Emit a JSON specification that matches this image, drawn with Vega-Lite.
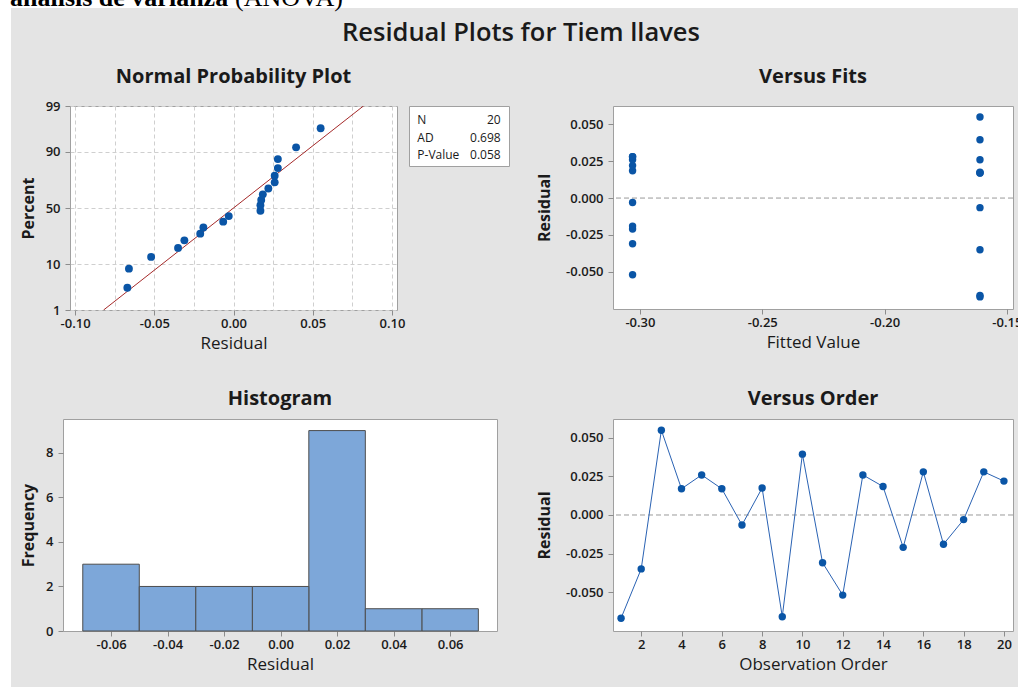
{
  "$schema": "https://vega.github.io/schema/vega-lite/v6.json",
  "autosize": {"type": "none"},
  "padding": {"left": 0, "top": 0, "right": 1018, "bottom": 687},
  "background": "#e4e4e4",
  "datasets": {
    "blank": [{}],
    "resid": [
      {"obs": 1, "fit": -0.161, "residual": -0.067, "nscore": -1.820},
      {"obs": 2, "fit": -0.161, "residual": -0.035, "nscore": -0.910},
      {"obs": 3, "fit": -0.161, "residual": 0.055, "nscore": 1.820},
      {"obs": 4, "fit": -0.161, "residual": 0.017, "nscore": -0.062},
      {"obs": 5, "fit": -0.161, "residual": 0.026, "nscore": 0.585},
      {"obs": 6, "fit": -0.161, "residual": 0.017, "nscore": 0.062},
      {"obs": 7, "fit": -0.161, "residual": -0.0065, "nscore": -0.312},
      {"obs": 8, "fit": -0.161, "residual": 0.0175, "nscore": 0.185},
      {"obs": 9, "fit": -0.161, "residual": -0.066, "nscore": -1.383},
      {"obs": 10, "fit": -0.161, "residual": 0.0395, "nscore": 1.383},
      {"obs": 11, "fit": -0.303, "residual": -0.031, "nscore": -0.738},
      {"obs": 12, "fit": -0.303, "residual": -0.052, "nscore": -1.115},
      {"obs": 13, "fit": -0.303, "residual": 0.026, "nscore": 0.738},
      {"obs": 14, "fit": -0.303, "residual": 0.0185, "nscore": 0.312},
      {"obs": 15, "fit": -0.303, "residual": -0.021, "nscore": -0.585},
      {"obs": 16, "fit": -0.303, "residual": 0.028, "nscore": 0.910},
      {"obs": 17, "fit": -0.303, "residual": -0.019, "nscore": -0.444},
      {"obs": 18, "fit": -0.303, "residual": -0.003, "nscore": -0.185},
      {"obs": 19, "fit": -0.303, "residual": 0.028, "nscore": 1.115},
      {"obs": 20, "fit": -0.303, "residual": 0.022, "nscore": 0.444}
    ],
    "fitline": [
      {"residual": -0.082, "nscore": -2.326},
      {"residual": 0.082, "nscore": 2.326}
    ],
    "stats": [
      {"stat": "N", "value": "20"},
      {"stat": "AD", "value": "0.698"},
      {"stat": "P-Value", "value": "0.058"}
    ]
  },
  "config": {
    "font": "Open Sans",
    "view": {"stroke": null},
    "title": {"font": "Open Sans", "fontSize": 20, "fontWeight": "bold", "color": "#1a1a1a", "anchor": "middle", "frame": "group", "baseline": "alphabetic", "offset": 19},
    "axis": {"domain": false, "tickColor": "#8c8c8c", "tickSize": 5, "labelFont": "Open Sans", "labelFontSize": 13, "labelFontWeight": 600, "labelColor": "#1a1a1a", "labelFlush": false, "labelOverlap": false, "titleFont": "Open Sans", "titleFontSize": 17, "titleFontWeight": "normal", "titleColor": "#1a1a1a", "grid": false},
    "axisX": {"labelPadding": 2, "titlePadding": 5},
    "axisY": {"labelPadding": 5, "titlePadding": 9, "titleFontSize": 16, "titleFontWeight": "bold"}
  },
  "columns": 1,
  "align": "each",
  "bounds": "flush",
  "spacing": 0,
  "concat": [
    {
      "hconcat": [
        {"width": 235, "height": 8, "data": {"name": "blank"}, "mark": {"type": "text", "text": ""}, "view": {"fill": "white", "stroke": null},
         "title": {"text": "análisis de varianza", "font": "Liberation Serif", "fontSize": 26, "fontWeight": "bold", "color": "#000000", "anchor": "start", "dx": 10, "offset": -13}},
        {"width": 783, "height": 8, "data": {"name": "blank"}, "mark": {"type": "text", "text": ""}, "view": {"fill": "white", "stroke": null},
         "title": {"text": "(ANOVA)", "font": "Liberation Serif", "fontSize": 26, "fontWeight": "normal", "color": "#000000", "anchor": "start", "dx": 0, "offset": -13}}
      ],
      "bounds": "flush", "spacing": 0
    },
    {"width": 1, "height": 8, "data": {"name": "blank"}, "mark": {"type": "text", "text": ""}},
    {"width": 11, "height": 98, "data": {"name": "blank"}, "mark": {"type": "text", "text": ""}, "view": {"fill": "white", "stroke": null},
     "title": {"text": "Residual Plots for Tiem llaves", "fontSize": 25.5, "fontWeight": 600, "offset": -38, "dx": 515.5}},
    {
      "hconcat": [
        {"width": 70, "height": 1, "data": {"name": "blank"}, "mark": {"type": "text", "text": ""}},
        {
          "width": 327, "height": 204,
          "view": {"fill": "white", "stroke": "#a0a0a0"},
          "title": {"text": "Normal Probability Plot", "offset": 13},
          "encoding": {
            "x": {"field": "residual", "type": "quantitative",
                  "scale": {"domain": [-0.1032, 0.1032], "nice": false, "zero": false},
                  "axis": {"title": "Residual", "values": [-0.1, -0.075, -0.05, -0.025, 0, 0.025, 0.05, 0.075, 0.1],
                           "grid": true, "gridDash": [4, 3], "gridColor": "#cfcfcf",
                           "labelExpr": "abs(datum.value*20 - round(datum.value*20)) < 0.01 ? replace(format(datum.value, '.2f'), '−', '-') : ''",
                           "tickOpacity": {"condition": {"test": "abs(datum.value*20 - round(datum.value*20)) < 0.01", "value": 1}, "value": 0}}},
            "y": {"field": "nscore", "type": "quantitative",
                  "scale": {"domain": [-2.326, 2.326], "nice": false, "zero": false},
                  "axis": {"title": "Percent", "values": [-2.326, -1.2816, 0, 1.2816, 2.326],
                           "grid": true, "gridDash": [4, 3], "gridColor": "#cfcfcf",
                           "labelExpr": "datum.value < -2 ? '1' : datum.value < -1 ? '10' : datum.value < 1 ? '50' : datum.value < 2 ? '90' : '99'"}}
          },
          "layer": [
            {"data": {"name": "fitline"}, "mark": {"type": "line", "color": "#a52a2a", "strokeWidth": 1, "clip": true}},
            {"data": {"name": "resid"}, "mark": {"type": "point", "filled": true, "size": 62, "color": "#0a55a6", "opacity": 1}}
          ]
        },
        {"width": 12, "height": 1, "data": {"name": "blank"}, "mark": {"type": "text", "text": ""}},
        {
          "width": 100, "height": 60,
          "view": {"fill": "white", "stroke": "#a0a0a0"},
          "data": {"name": "stats"},
          "encoding": {
            "y": {"field": "stat", "type": "nominal", "sort": null, "scale": {"type": "point", "padding": 0.72}, "axis": null}
          },
          "layer": [
            {"mark": {"type": "text", "align": "left", "baseline": "middle", "fontSize": 12, "color": "#1a1a1a", "dy": 1.5},
             "encoding": {"text": {"field": "stat"}, "x": {"datum": 0, "type": "quantitative", "scale": {"domain": [-0.08, 1.08]}, "axis": null}}},
            {"mark": {"type": "text", "align": "right", "baseline": "middle", "fontSize": 12, "color": "#1a1a1a", "dy": 1.5},
             "encoding": {"text": {"field": "value"}, "x": {"datum": 1, "type": "quantitative", "axis": null}}}
          ]
        },
        {"width": 104, "height": 1, "data": {"name": "blank"}, "mark": {"type": "text", "text": ""}},
        {
          "width": 400, "height": 203,
          "view": {"fill": "white", "stroke": "#a0a0a0"},
          "title": {"text": "Versus Fits"},
          "layer": [
            {"data": {"name": "blank"}, "mark": {"type": "rule", "color": "#9a9a9a", "strokeDash": [5, 3], "strokeWidth": 1},
             "encoding": {"y": {"datum": 0, "type": "quantitative",
                  "scale": {"domain": [-0.0752, 0.0624], "nice": false, "zero": false},
                  "axis": {"title": "Residual", "titlePadding": 13, "values": [-0.05, -0.025, 0, 0.025, 0.05], "labelExpr": "replace(format(datum.value, '.3f'), '−', '-')"}}}},
            {"data": {"name": "resid"}, "mark": {"type": "point", "filled": true, "size": 55, "color": "#0a55a6", "opacity": 1},
             "encoding": {
               "x": {"field": "fit", "type": "quantitative",
                     "scale": {"domain": [-0.311, -0.1475], "nice": false, "zero": false},
                     "axis": {"title": "Fitted Value", "values": [-0.3, -0.25, -0.2, -0.15], "labelExpr": "replace(format(datum.value, '.2f'), '−', '-')"}},
               "y": {"field": "residual", "type": "quantitative",
                     "axis": {"title": "Residual", "titlePadding": 13, "values": [-0.05, -0.025, 0, 0.025, 0.05], "labelExpr": "replace(format(datum.value, '.3f'), '−', '-')"}}
             }}
          ]
        }
      ],
      "bounds": "flush", "spacing": 0
    },
    {"width": 11, "height": 313, "data": {"name": "blank"}, "mark": {"type": "text", "text": ""}, "view": {"fill": "white", "stroke": null}},
    {
      "hconcat": [
        {"width": 63, "height": 1, "data": {"name": "blank"}, "mark": {"type": "text", "text": ""}},
        {
          "width": 434, "height": 212,
          "view": {"fill": "white", "stroke": "#a0a0a0"},
          "title": {"text": "Histogram", "offset": 10},
          "data": {"name": "resid"},
          "transform": [
            {"bin": {"extent": [-0.07, 0.07], "step": 0.02, "nice": false}, "field": "residual", "as": ["bin_lo", "bin_hi"]},
            {"aggregate": [{"op": "count", "as": "freq"}], "groupby": ["bin_lo", "bin_hi"]}
          ],
          "mark": {"type": "rect", "fill": "#7da7d9", "stroke": "#4d4d4d", "strokeWidth": 1},
          "encoding": {
            "x": {"field": "bin_lo", "type": "quantitative",
                  "scale": {"domain": [-0.077, 0.0766], "nice": false, "zero": false},
                  "axis": {"title": "Residual", "values": [-0.06, -0.04, -0.02, 0, 0.02, 0.04, 0.06], "labelExpr": "replace(format(datum.value, '.2f'), '−', '-')"}},
            "x2": {"field": "bin_hi"},
            "y": {"field": "freq", "type": "quantitative",
                  "scale": {"domain": [0, 9.52], "nice": false},
                  "axis": {"title": "Frequency", "values": [0, 2, 4, 6, 8]}}
          }
        },
        {"width": 116, "height": 1, "data": {"name": "blank"}, "mark": {"type": "text", "text": ""}},
        {
          "width": 400, "height": 212,
          "view": {"fill": "white", "stroke": "#a0a0a0"},
          "title": {"text": "Versus Order", "offset": 10},
          "layer": [
            {"data": {"name": "blank"}, "mark": {"type": "rule", "color": "#9a9a9a", "strokeDash": [5, 3], "strokeWidth": 1},
             "encoding": {"y": {"datum": 0, "type": "quantitative",
                  "scale": {"domain": [-0.0753, 0.0623], "nice": false, "zero": false},
                  "axis": {"title": "Residual", "titlePadding": 13, "values": [-0.05, -0.025, 0, 0.025, 0.05], "labelExpr": "replace(format(datum.value, '.3f'), '−', '-')"}}}},
            {"data": {"name": "resid"}, "mark": {"type": "line", "color": "#2a62b3", "strokeWidth": 1},
             "encoding": {
               "x": {"field": "obs", "type": "quantitative",
                     "scale": {"domain": [0.6, 20.45], "nice": false, "zero": false},
                     "axis": {"title": "Observation Order", "values": [2, 4, 6, 8, 10, 12, 14, 16, 18, 20], "format": "d"}},
               "y": {"field": "residual", "type": "quantitative",
                     "axis": {"title": "Residual", "titlePadding": 13, "values": [-0.05, -0.025, 0, 0.025, 0.05], "labelExpr": "replace(format(datum.value, '.3f'), '−', '-')"}}
             }},
            {"data": {"name": "resid"}, "mark": {"type": "point", "filled": true, "size": 55, "color": "#0a55a6", "opacity": 1},
             "encoding": {
               "x": {"field": "obs", "type": "quantitative",
                     "axis": {"title": "Observation Order", "values": [2, 4, 6, 8, 10, 12, 14, 16, 18, 20], "format": "d"}},
               "y": {"field": "residual", "type": "quantitative",
                     "axis": {"title": "Residual", "titlePadding": 13, "values": [-0.05, -0.025, 0, 0.025, 0.05], "labelExpr": "replace(format(datum.value, '.3f'), '−', '-')"}}
             }}
          ]
        }
      ],
      "bounds": "flush", "spacing": 0
    },
    {"width": 11, "height": 268, "data": {"name": "blank"}, "mark": {"type": "text", "text": ""}, "view": {"fill": "white", "stroke": null}}
  ]
}
